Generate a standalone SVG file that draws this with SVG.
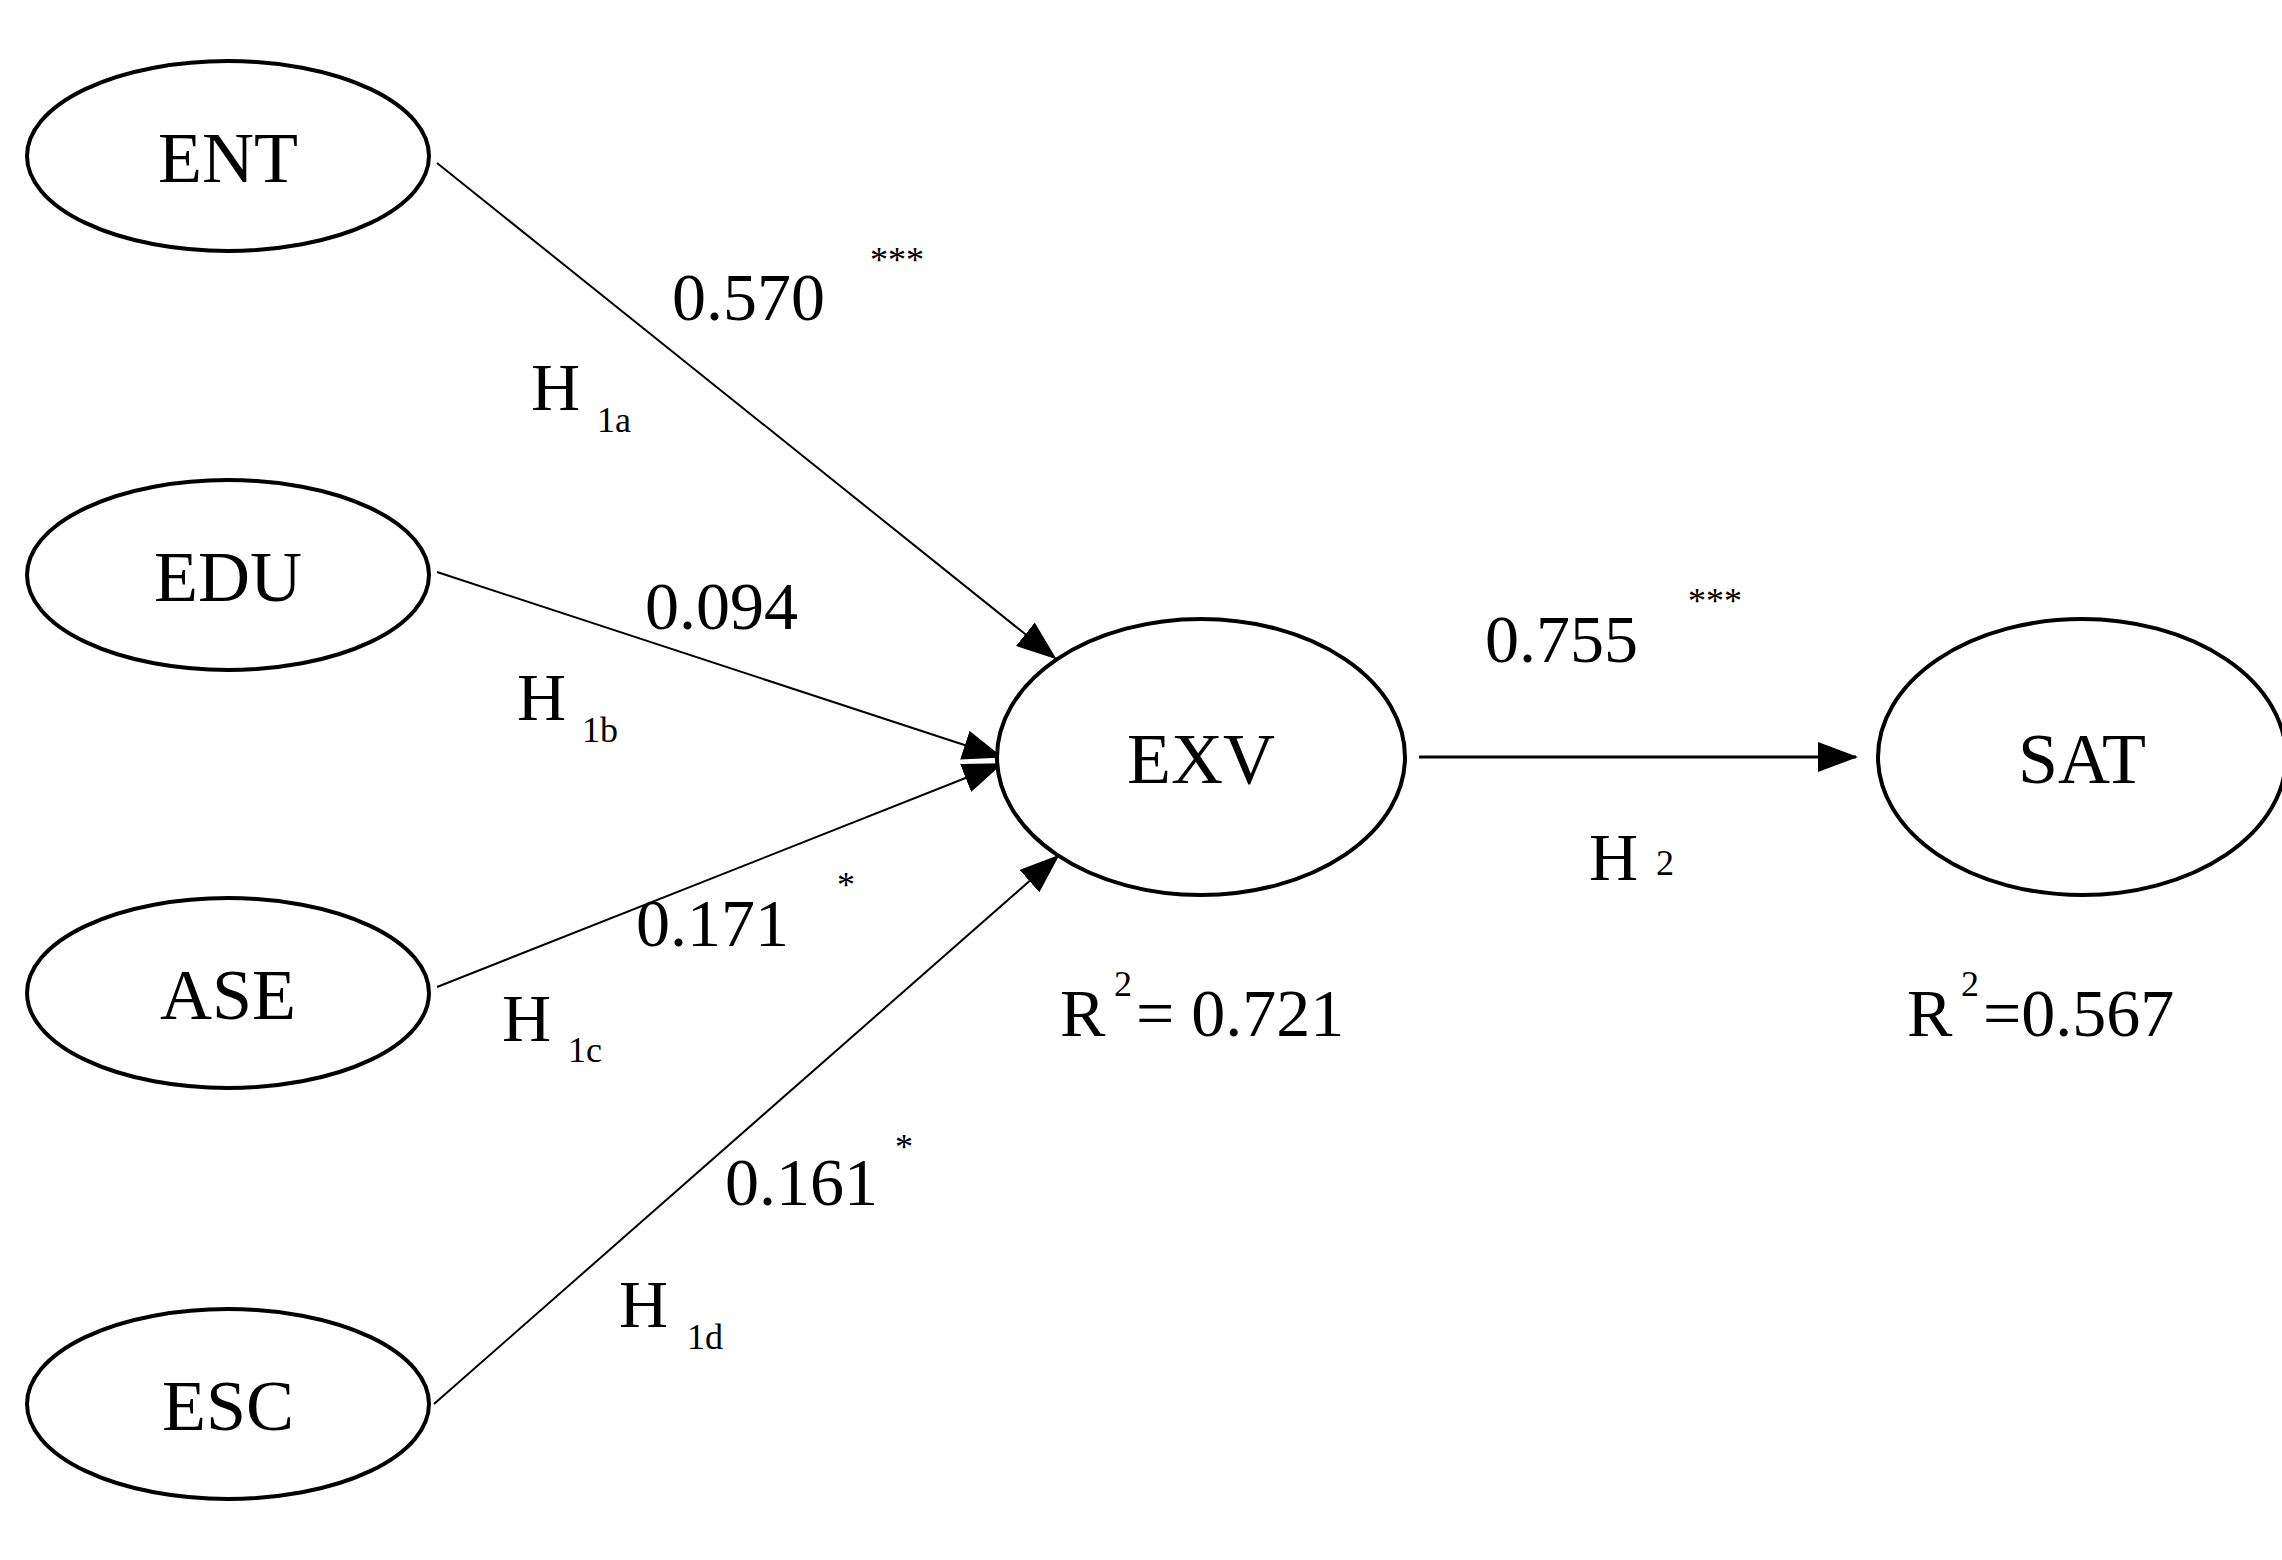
<svg xmlns="http://www.w3.org/2000/svg" width="2282" height="1560" viewBox="0 0 2282 1560">
<style>
.n{fill:#fff;stroke:#000;stroke-width:4}
.t{font-family:"Liberation Serif",serif;fill:#000}
.nl{font-size:72px;text-anchor:middle}
.v{font-size:68px}
.s{font-size:36px}
.c{stroke:#000;stroke-width:2.2;fill:none;marker-end:url(#a)}
</style>
<defs><marker id="a" markerWidth="14" markerHeight="12" refX="13" refY="6" orient="auto" markerUnits="userSpaceOnUse" viewBox="0 0 14 12"><path d="M0,0 L14,6 L0,12 Z" fill="#000"/></marker>
<marker id="b" markerWidth="40" markerHeight="30" refX="38" refY="15" orient="auto" markerUnits="userSpaceOnUse" viewBox="0 0 40 30"><path d="M0,0 L40,15 L0,30 Z" fill="#000"/></marker></defs>
<rect width="2282" height="1560" fill="#fff"/>
<g id="connectors">
<line x1="437" y1="163" x2="1055" y2="658" stroke="#000" stroke-width="2" marker-end="url(#b)"/>
<line x1="437" y1="572" x2="1001" y2="757" stroke="#000" stroke-width="2" marker-end="url(#b)"/>
<line x1="437" y1="987" x2="1001" y2="764" stroke="#000" stroke-width="2" marker-end="url(#b)"/>
<line x1="434" y1="1404" x2="1058" y2="856" stroke="#000" stroke-width="2" marker-end="url(#b)"/>
<line x1="1419" y1="757" x2="1856" y2="757" stroke="#000" stroke-width="3" marker-end="url(#b)"/>
</g>
<g id="ENT"><ellipse class="n" cx="228" cy="156" rx="201" ry="95"/><text class="t nl" x="228" y="182">ENT</text></g>
<g id="EDU"><ellipse class="n" cx="228" cy="575" rx="201" ry="95"/><text class="t nl" x="228" y="601">EDU</text></g>
<g id="ASE"><ellipse class="n" cx="228" cy="993" rx="201" ry="95"/><text class="t nl" x="228" y="1019">ASE</text></g>
<g id="ESC"><ellipse class="n" cx="228" cy="1404" rx="201" ry="95"/><text class="t nl" x="228" y="1430">ESC</text></g>
<g id="EXV"><ellipse class="n" cx="1201" cy="757" rx="204" ry="138"/><text class="t nl" x="1201" y="783">EXV</text></g>
<g id="SAT"><ellipse class="n" cx="2082" cy="757" rx="204" ry="138"/><text class="t nl" x="2082" y="783">SAT</text></g>
<g id="labels">
<text class="t v" x="672" y="320">0.570</text><text class="t s" x="870" y="272">***</text>
<text class="t v" x="531" y="410">H</text><text class="t s" x="597" y="432">1a</text>
<text class="t v" x="645" y="629">0.094</text>
<text class="t v" x="517" y="720">H</text><text class="t s" x="582" y="742">1b</text>
<text class="t v" x="636" y="946">0.171</text><text class="t s" x="837" y="897">*</text>
<text class="t v" x="502" y="1041">H</text><text class="t s" x="568" y="1062">1c</text>
<text class="t v" x="725" y="1205">0.161</text><text class="t s" x="895" y="1159">*</text>
<text class="t v" x="619" y="1327">H</text><text class="t s" x="687" y="1349">1d</text>
<text class="t v" x="1485" y="662">0.755</text><text class="t s" x="1688" y="613">***</text>
<text class="t v" x="1589" y="880">H</text><text class="t s" x="1656" y="875">2</text>
<text class="t v" x="1060" y="1036">R</text><text class="t s" x="1114" y="996">2</text><text class="t v" x="1136" y="1036">= 0.721</text>
<text class="t v" x="1907" y="1036">R</text><text class="t s" x="1961" y="996">2</text><text class="t v" x="1983" y="1036">=0.567</text>
</g>
</svg>
